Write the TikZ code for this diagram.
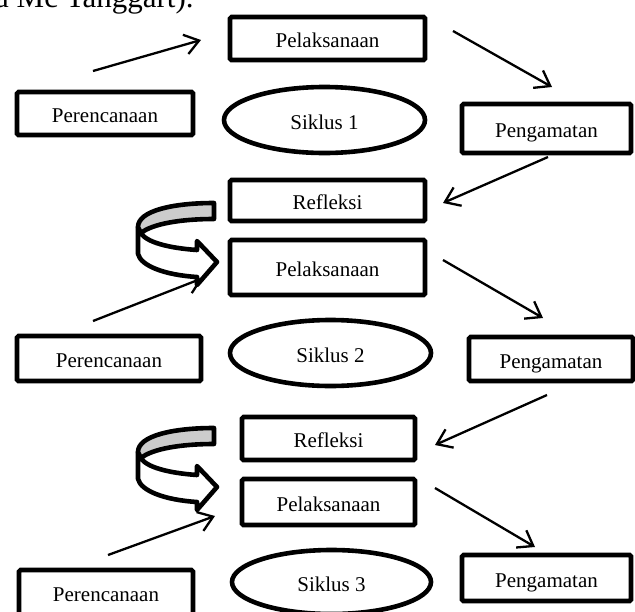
\documentclass[tikz,border=0pt]{standalone}
\usepackage{fontspec}
\setmainfont{Liberation Serif}
\usetikzlibrary{arrows.meta,shapes.geometric}
\newcommand{\boxfont}{\fontsize{21}{25}\selectfont}

\begin{document}
\begin{tikzpicture}[x=1pt,y=-1pt,
  stage/.style={draw,line width=4.6pt,rounded corners=1.5pt,inner sep=0pt,text height=18pt,text depth=0pt,font=\boxfont},
  cyc/.style={draw,ellipse,line width=4.6pt,inner sep=0pt,text height=18pt,text depth=0pt,font=\boxfont},
  flow/.style={-{Straight Barb[length=14pt,width=20pt]},line width=2.3pt},
  turn/.style={draw,line width=4.6pt,line join=round,fill=#1},
  turn/.default=white]
\useasboundingbox (0,0) rectangle (635,611);
\clip (0,0) rectangle (635,611);
% caption line cut off above the figure
\node[anchor=base west,inner sep=0pt,font=\fontsize{31}{36}\selectfont] (cap) at (-5,7) {a Mc Tanggart).};
% siklus 1
\node[stage,minimum width=195pt,minimum height=43pt] (pel1) at (327.5,38.5) {Pelaksanaan};
\node[stage,minimum width=176pt,minimum height=43pt] (per1) at (105,113.5) {Perencanaan};
\node[cyc,minimum width=201pt,minimum height=66pt] (sik1) at (324.5,120) {Siklus 1};
\node[stage,minimum width=169pt,minimum height=49pt] (pen1) at (546.5,128.5) {Pengamatan};
\node[stage,minimum width=195pt,minimum height=41pt] (ref1) at (327.5,200.5) {Refleksi};
% siklus 2
\node[stage,minimum width=195pt,minimum height=55pt] (pel2) at (327.5,267.5) {Pelaksanaan};
\node[stage,minimum width=184pt,minimum height=45pt] (per2) at (109,358.5) {Perencanaan};
\node[cyc,minimum width=201pt,minimum height=66pt] (sik2) at (330.5,353) {Siklus 2};
\node[stage,minimum width=164pt,minimum height=44pt] (pen2) at (551,359) {Pengamatan};
\node[stage,minimum width=173pt,minimum height=43pt] (ref2) at (328.5,438.5) {Refleksi};
% siklus 3
\node[stage,minimum width=173pt,minimum height=46pt] (pel3) at (328.5,502) {Pelaksanaan};
\node[stage,minimum width=174pt,minimum height=45pt] (per3) at (106,592.5) {Perencanaan};
\node[cyc,minimum width=199pt,minimum height=64pt] (sik3) at (331.5,582) {Siklus 3};
\node[stage,minimum width=169pt,minimum height=46pt] (pen3) at (546.5,578) {Pengamatan};
% loose ends of the thin arrows
\coordinate (per1o) at (93,71);   \coordinate (pel1i) at (201,40);
\coordinate (pel1o) at (453,31);  \coordinate (pen1i) at (552,87);
\coordinate (pen1o) at (548,157); \coordinate (ref1i) at (443,203);
\coordinate (per2o) at (93,321);  \coordinate (pel2i) at (203,278);
\coordinate (pel2o) at (443,260); \coordinate (pen2i) at (543,318);
\coordinate (pen2o) at (547,395); \coordinate (ref2i) at (435,445);
\coordinate (per3o) at (108,555); \coordinate (pel3i) at (215,516);
\coordinate (pel3o) at (435,488); \coordinate (pen3i) at (535,547);
\draw[flow] (per1o) -- (pel1i);
\draw[flow] (pel1o) -- (pen1i);
\draw[flow] (pen1o) -- (ref1i);
\draw[flow] (per2o) -- (pel2i);
\draw[flow] (pel2o) -- (pen2i);
\draw[flow] (pen2o) -- (ref2i);
\draw[flow] (per3o) -- (pel3i);
\draw[flow] (pel3o) -- (pen3i);
% turning block arrows from refleksi to the next pelaksanaan
\foreach \dy in {0,225}{
  \begin{scope}[shift={(0,\dy)}]
    \path[turn] (138,227) -- (138,254) .. controls (141,266) and (165,275) .. (197,277)
      -- (197,285) -- (217,262) -- (197,241) -- (197,250)
      .. controls (168,248) and (146,242) .. (141,233) -- cycle;
    \path[turn=gray!40] (214,203) .. controls (172,203) and (138,211) .. (138,227)
      -- (141,233) .. controls (152,224) and (180,219) .. (214,219) -- cycle;
  \end{scope}
}
\end{tikzpicture}
\end{document}
